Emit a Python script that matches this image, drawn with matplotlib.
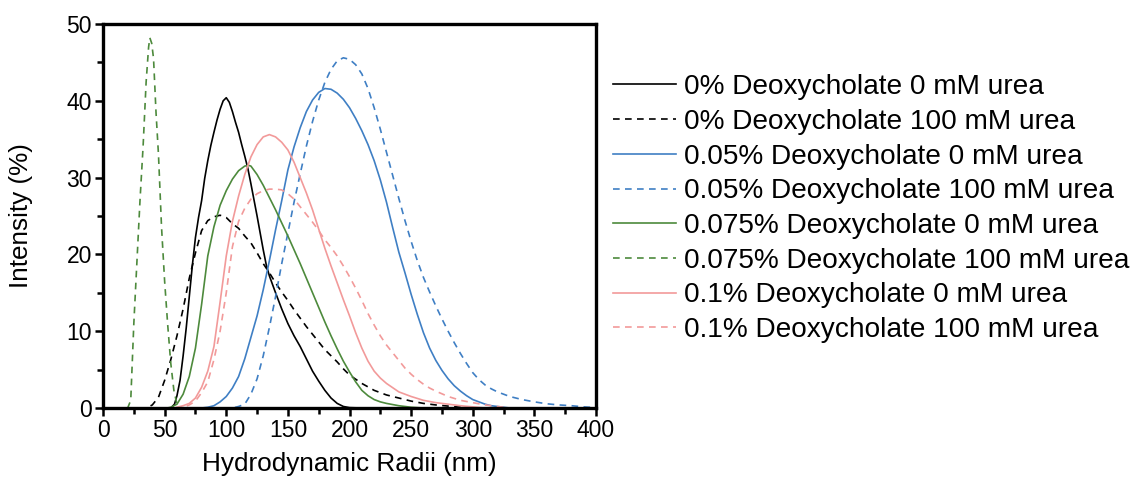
import matplotlib
matplotlib.use("Agg")
import matplotlib.pyplot as plt
from matplotlib.ticker import MultipleLocator

plt.rcParams['font.family'] = ['Liberation Sans', 'DejaVu Sans']

# ---- data (x: nm, y: %) ----
x_bs = [0, 50, 55, 58, 60, 62.5, 65, 67.5, 70, 72.5, 75, 77.5, 80, 82.5, 85, 87.5, 90, 92.5, 95, 97.5,
        100, 102.5, 105, 107.5, 110, 112.5, 115, 117.5, 120, 122.5, 125, 127.5, 130, 132.5, 135, 140,
        145, 150, 155, 160, 165, 170, 175, 180, 185, 190, 195, 200, 210, 400]
y_bs = [0, 0, 0, 0.5, 1.6, 3.6, 6.8, 10.4, 14.5, 18.6, 22.2, 24.8, 27, 29.9, 32.2, 34.2, 35.9, 37.5, 38.9, 40,
        40.4, 39.8, 38.6, 37.2, 35.9, 34.3, 32.8, 31.2, 29.2, 27.1, 25, 22.8, 20.6, 18.6, 17.2, 15,
        12.9, 11, 9.4, 8, 6.4, 4.8, 3.5, 2.3, 1.3, 0.6, 0.2, 0.05, 0, 0]

x_bd = [0, 35, 40, 45, 50, 55, 60, 65, 70, 75, 80, 85, 90, 95, 100, 105, 110, 115, 120, 125, 130, 135,
        140, 145, 150, 155, 160, 165, 170, 175, 180, 185, 190, 195, 200, 210, 220, 230, 240, 250, 260,
        270, 280, 290, 300, 400]
y_bd = [0, 0, 0.4, 1.4, 3.6, 6.3, 9.4, 12.9, 16.9, 20.2, 23.1, 24.4, 24.9, 25.1, 24.8, 24, 23.4, 22.4,
        21.5, 20.2, 18.8, 17.6, 16.3, 15.1, 14, 12.8, 11.7, 10.6, 9.6, 8.6, 7.6, 6.8, 6, 5.1, 4.3, 3.2,
        2.3, 1.7, 1.3, 0.9, 0.6, 0.4, 0.25, 0.1, 0, 0]

x_blue = [0, 80, 85, 90, 95, 100, 105, 110, 115, 120, 125, 130, 135, 140, 145, 150, 155, 160, 165, 170,
          175, 180, 185, 190, 195, 200, 205, 210, 215, 220, 225, 230, 235, 240, 245, 250, 255, 260, 265,
          270, 275, 280, 285, 290, 295, 300, 305, 310, 315, 320, 330, 400]
y_blue = [0, 0, 0.1, 0.3, 0.8, 1.5, 2.6, 4.1, 6.4, 9.2, 12, 15.4, 19.2, 23.2, 27, 31, 34, 36.5, 38.6,
          40.1, 41.1, 41.6, 41.5, 41, 40.2, 39.1, 37.7, 36.1, 34.3, 32.2, 29.7, 26.8, 23.5, 20.3, 17.6,
          14.8, 12.2, 9.8, 7.8, 6.2, 4.9, 3.8, 2.9, 2.2, 1.6, 1.1, 0.8, 0.5, 0.3, 0.2, 0, 0]

x_blue_u = [0, 105, 110, 115, 120, 125, 130, 135, 140, 145, 150, 155, 160, 165, 170, 175, 180, 185, 190,
            195, 200, 205, 210, 215, 220, 225, 230, 235, 240, 245, 250, 255, 260, 265, 270, 275, 280, 285,
            290, 295, 300, 305, 310, 315, 320, 325, 330, 340, 350, 360, 370, 380, 390, 400]
y_blue_u = [0, 0, 0.2, 0.5, 1.8, 3.8, 6.8, 10.5, 14.5, 18.8, 22.8, 26.8, 30.5, 34.1, 37.3, 40.1, 42.4,
            44.1, 45.2, 45.6, 45.4, 44.7, 43.5, 41.6, 39.1, 36.3, 33.3, 30.3, 27.3, 24.4, 21.7, 19.2, 17,
            15.1, 13.3, 11.6, 10, 8.5, 7.1, 5.8, 4.6, 3.7, 3, 2.5, 2.1, 1.8, 1.5, 1.1, 0.8, 0.55, 0.4,
            0.3, 0.15, 0.05]

x_green = [0, 52, 55, 60, 65, 70, 75, 80, 85, 90, 95, 100, 105, 110, 115, 118, 120, 125, 130, 135, 140,
           145, 150, 155, 160, 165, 170, 175, 180, 185, 190, 195, 200, 205, 210, 215, 220, 225, 230, 240,
           250, 260, 400]
y_green = [0, 0, 0.1, 0.5, 1.8, 4.1, 7.8, 13.5, 19.8, 23.6, 26.4, 28.3, 29.8, 30.9, 31.5, 31.6, 31.5,
           30.4, 29, 27.4, 25.8, 24.1, 22.4, 20.6, 18.8, 16.9, 15, 13.1, 11.2, 9.4, 7.7, 6.1, 4.7, 3.4,
           2.3, 1.6, 1.1, 0.8, 0.6, 0.3, 0.1, 0, 0]

x_green_u = [0, 20, 22.5, 25, 27.5, 30, 32.5, 35, 37, 38, 39.5, 41, 43, 45, 47.5, 50, 52.5, 55, 57.5,
             60, 63, 400]
y_green_u = [0, 0, 1, 11, 19, 27, 34, 42.5, 47, 48.2, 47.5, 45.5, 38.5, 33, 23.5, 16.5, 10.8, 5.8, 2.3,
             0.5, 0, 0]

x_pink = [0, 58, 60, 65, 70, 75, 80, 85, 90, 95, 100, 105, 110, 115, 120, 125, 130, 135, 140, 145, 150,
          155, 160, 165, 170, 175, 180, 185, 190, 195, 200, 205, 210, 215, 220, 225, 230, 240, 250, 260,
          270, 280, 290, 300, 310, 400]
y_pink = [0, 0, 0.1, 0.3, 0.6, 1.3, 2.7, 4.8, 8, 13.8, 19.8, 24.3, 27.6, 30.4, 32.7, 34.3, 35.3, 35.6,
          35.3, 34.6, 33.6, 32, 30, 28, 25.8, 23.3, 20.8, 18.5, 16.3, 14.1, 12, 9.8, 7.8, 6.1, 4.8, 3.9,
          3.2, 2.1, 1.5, 1, 0.7, 0.5, 0.3, 0.15, 0, 0]

x_pink_u = [0, 60, 65, 70, 75, 80, 85, 90, 95, 100, 105, 110, 115, 120, 125, 130, 135, 140, 145, 150,
            155, 160, 165, 170, 175, 180, 185, 190, 195, 200, 205, 210, 215, 220, 225, 230, 235, 240, 245,
            250, 255, 260, 265, 270, 280, 290, 300, 310, 320, 330, 400]
y_pink_u = [0, 0, 0.1, 0.4, 0.9, 2, 3.4, 6.3, 10, 15, 21, 24.3, 26, 27.2, 27.9, 28.3, 28.5, 28.5, 28.4,
            27.9, 27.2, 26.2, 25.2, 24.2, 23.1, 21.9, 20.9, 19.8, 18.5, 17.1, 15.6, 14, 12.3, 10.8, 9.4,
            8.2, 7.2, 6.2, 5.2, 4.4, 3.7, 3.1, 2.6, 2.2, 1.5, 1, 0.7, 0.4, 0.2, 0, 0]

labels = [
    "0% Deoxycholate 0 mM urea",
    "0% Deoxycholate 100 mM urea",
    "0.05% Deoxycholate 0 mM urea",
    "0.05% Deoxycholate 100 mM urea",
    "0.075% Deoxycholate 0 mM urea",
    "0.075% Deoxycholate 100 mM urea",
    "0.1% Deoxycholate 0 mM urea",
    "0.1% Deoxycholate 100 mM urea",
]

series = [(x_bs, y_bs), (x_bd, y_bd), (x_blue, y_blue), (x_blue_u, y_blue_u),
          (x_green, y_green), (x_green_u, y_green_u), (x_pink, y_pink), (x_pink_u, y_pink_u)]
colors = ['black', 'black', '#3f7fc4', '#3f7fc4', '#4d8a3c', '#4d8a3c', '#f29a9a', '#f29a9a']
dash = (0, (4, 3.2))
styles = ['-', dash] * 4

fig = plt.figure(figsize=(11.37, 4.82), dpi=100)
ax = fig.add_axes([0.0906, 0.1535, 0.4336, 0.7967])

for (xs, ys), c, ls, lab in zip(series, colors, styles, labels):
    ax.plot(xs, ys, color=c, linestyle=ls, linewidth=1.2, label=lab)

ax.set_xlim(0, 400)
ax.set_ylim(0, 50)
ax.xaxis.set_major_locator(MultipleLocator(50))
ax.xaxis.set_minor_locator(MultipleLocator(25))
ax.yaxis.set_major_locator(MultipleLocator(10))
ax.yaxis.set_minor_locator(MultipleLocator(5))
ax.tick_params(which='both', direction='out', width=1.8, labelsize=16.5, top=False, right=False)
ax.tick_params(which='major', length=6, pad=2)
ax.tick_params(which='minor', length=4)
for s in ax.spines.values():
    s.set_linewidth(2.4)

ax.set_xlabel("Hydrodynamic Radii (nm)", fontsize=18.8, labelpad=7)
ax.set_ylabel("Intensity (%)", fontsize=18.8, labelpad=24)

fig.legend(loc='center left', bbox_to_anchor=(0.539, 0.567), frameon=False,
           fontsize=20.2, handlelength=2.25, handletextpad=0.28,
           labelspacing=0.31, borderpad=0, borderaxespad=0)

fig.savefig("out.png", dpi=100)
